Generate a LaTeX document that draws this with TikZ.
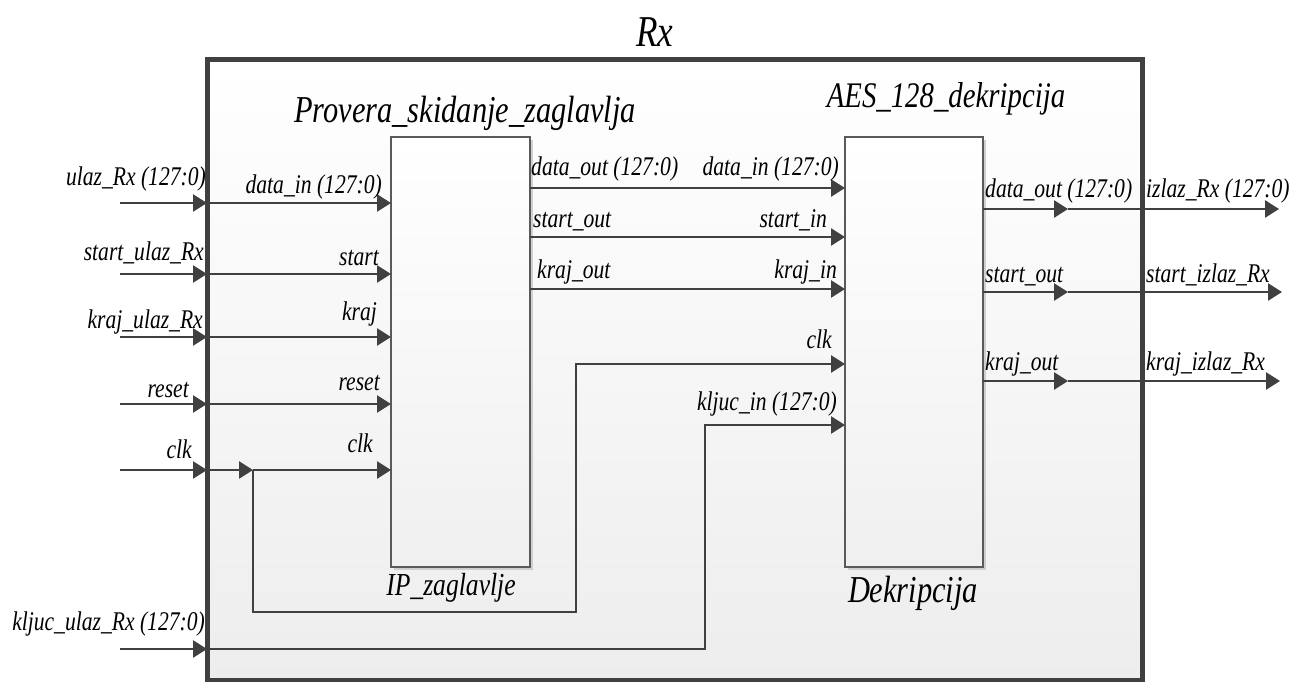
\documentclass[tikz,border=0pt]{standalone}
\usepackage{fontspec}
\setmainfont{Liberation Serif}[ItalicFont={Liberation Serif Italic}]
\usetikzlibrary{arrows.meta,shadows}
\definecolor{ln}{HTML}{404040}
\definecolor{bx}{HTML}{5A5A5A}
\newcommand{\nt}[1]{\scalebox{0.8}[1]{#1}}
\tikzset{
  lbl/.style={inner sep=0pt, font=\itshape\fontsize{27}{30}\selectfont, text=black},
  ttl/.style={inner sep=0pt, font=\itshape\fontsize{#1}{#1}\selectfont, text=black},
  sig/.style={draw=ln, line width=2.6pt},
  sigar/.style={sig, -{Triangle[length=14pt,width=17pt]}},
  blockbox/.style={draw=bx, line width=1.4pt, top color=white, bottom color=gray!12,
    inner sep=0pt, outer sep=0pt,
    drop shadow={shadow xshift=2.5pt, shadow yshift=-2.5pt, fill=gray!45, opacity=0.8}},
}
\begin{document}
\begin{tikzpicture}[x=1pt,y=-1pt]
\useasboundingbox (0,0) rectangle (1292,682);
% outer box
\node (outer) [draw=ln, line width=5pt, top color=white, bottom color=gray!14,
  minimum width=935pt, minimum height=620pt, inner sep=0pt, outer sep=0pt] at (674.5,370) {};
% blocks
\node (b1) [blockbox, minimum width=139pt, minimum height=430pt] at (460.5,352) {};
\node (b2) [blockbox, minimum width=138pt, minimum height=430pt] at (914,352) {};
% titles
\node (tRx) [ttl=44, anchor=base] at (655,47) {\nt{Rx}};
\node (t1) [ttl=38, anchor=base] at (465,123) {\nt{Provera\_skidanje\_zaglavlja}};
\node (t2) [ttl=36, anchor=base] at (946,107) {\nt{AES\_128\_dekripcija}};
\node (t3) [ttl=32, anchor=base] at (451,595) {\nt{IP\_zaglavlje}};
\node (t4) [ttl=38, anchor=base] at (913,602) {\nt{Dekripcija}};
% input coordinates
\coordinate (i1) at (120,203);
\coordinate (i2) at (120,274);
\coordinate (i3) at (120,337);
\coordinate (i4) at (120,404);
\coordinate (i5) at (120,470);
\coordinate (i6) at (120,649);
\coordinate (jc) at (253,470);
\coordinate (c1) at (253,612);
\coordinate (c2) at (576,612);
\coordinate (c3) at (576,364);
\coordinate (k1) at (705,649);
\coordinate (k2) at (705,425);
% inputs to outer
\foreach \i in {1,...,6} \draw[sigar] (i\i) -- (i\i -| outer.west);
% outer to block 1
\draw[sigar] (i1 -| outer.west) -- (i1 -| b1.west);
\draw[sigar] (i2 -| outer.west) -- (i2 -| b1.west);
\draw[sigar] (i3 -| outer.west) -- (i3 -| b1.west);
\draw[sigar] (i4 -| outer.west) -- (i4 -| b1.west);
\draw[sigar] (i5 -| outer.west) -- (jc);
\draw[sigar] (jc) -- (i5 -| b1.west);
% clk to block 2
\draw[sigar] (jc) -- (c1) -- (c2) -- (c3) -- (c3 -| b2.west);
% kljuc to block 2
\draw[sigar] (i6 -| outer.west) -- (k1) -- (k2) -- (k2 -| b2.west);
% between blocks
\coordinate (m1) at (530,188);
\coordinate (m2) at (530,237);
\coordinate (m3) at (530,289);
\draw[sigar] (m1 -| b1.east) -- (m1 -| b2.west);
\draw[sigar] (m2 -| b1.east) -- (m2 -| b2.west);
\draw[sigar] (m3 -| b1.east) -- (m3 -| b2.west);
% outputs
\coordinate (o1) at (1068,209);
\coordinate (o2) at (1068,292);
\coordinate (o3) at (1068,381);
\coordinate (e1) at (1279,209);
\coordinate (e2) at (1282,292);
\coordinate (e3) at (1280,381);
\foreach \i in {1,2,3} {
  \draw[sigar] (o\i -| b2.east) -- (o\i);
  \draw[sigar] (o\i) -- (e\i);
}
% labels: left outer
\node (la1) [lbl, anchor=base east] at (206,185) {\nt{ulaz\_Rx (127:0)}};
\node (la2) [lbl, anchor=base east] at (204,260) {\nt{start\_ulaz\_Rx}};
\node (la3) [lbl, anchor=base east] at (203,328) {\nt{kraj\_ulaz\_Rx}};
\node (la4) [lbl, anchor=base east] at (189,397) {\nt{reset}};
\node (la5) [lbl, anchor=base east] at (192,458) {\nt{clk}};
\node (la6) [lbl, anchor=base east] at (205,630) {\nt{kljuc\_ulaz\_Rx (127:0)}};
% block 1 inputs
\node (lb1) [lbl, anchor=base east] at (382,193) {\nt{data\_in (127:0)}};
\node (lb2) [lbl, anchor=base east] at (379,265) {\nt{start}};
\node (lb3) [lbl, anchor=base east] at (377,320) {\nt{kraj}};
\node (lb4) [lbl, anchor=base east] at (380,390) {\nt{reset}};
\node (lb5) [lbl, anchor=base east] at (373,452) {\nt{clk}};
% between
\node (lc1) [lbl, anchor=base west] at (531,175) {\nt{data\_out (127:0)}};
\node (lc2) [lbl, anchor=base west] at (533,227) {\nt{start\_out}};
\node (lc3) [lbl, anchor=base west] at (537,278) {\nt{kraj\_out}};
\node (ld1) [lbl, anchor=base east] at (839,175) {\nt{data\_in (127:0)}};
\node (ld2) [lbl, anchor=base east] at (827,227) {\nt{start\_in}};
\node (ld3) [lbl, anchor=base east] at (837,278) {\nt{kraj\_in}};
\node (ld4) [lbl, anchor=base east] at (832,348) {\nt{clk}};
\node (ld5) [lbl, anchor=base east] at (837,410) {\nt{kljuc\_in (127:0)}};
% outputs
\node (le1) [lbl, anchor=base west] at (985,197) {\nt{data\_out (127:0)}};
\node (le2) [lbl, anchor=base west] at (985,282) {\nt{start\_out}};
\node (le3) [lbl, anchor=base west] at (985,370) {\nt{kraj\_out}};
\node (lf1) [lbl, anchor=base west] at (1146,197) {\nt{izlaz\_Rx (127:0)}};
\node (lf2) [lbl, anchor=base west] at (1146,282) {\nt{start\_izlaz\_Rx}};
\node (lf3) [lbl, anchor=base west] at (1146,370) {\nt{kraj\_izlaz\_Rx}};
\end{tikzpicture}
\end{document}
